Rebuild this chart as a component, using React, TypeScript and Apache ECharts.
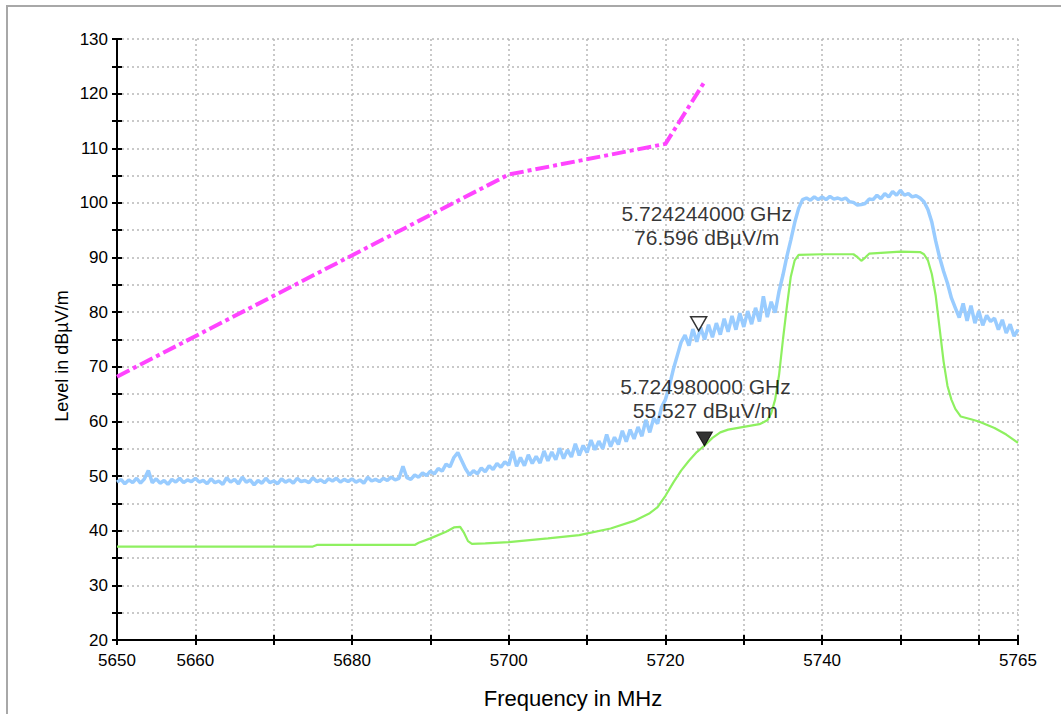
import React, { useEffect, useRef } from "react";
import * as echarts from "echarts";

// Axis ranges and labelled ticks
const FREQ_MIN = 5650;
const FREQ_MAX = 5765;
const FREQ_TICK = 10;
const FREQ_LABELS = [5650, 5660, 5680, 5700, 5720, 5740, 5765];
const LEVEL_MIN = 20;
const LEVEL_MAX = 130;
const LEVEL_TICK = 5;

// Peak detector trace, one reading every 0.5 MHz from 5650 MHz
const PEAK_START = 5650;
const PEAK_STEP = 0.5;
const PEAK_LEVELS = [
  48.9, 49.4, 48.6, 49.3, 48.8, 49.6, 48.7, 49.5, 51.0, 48.8,
  49.5, 48.7, 49.2, 48.5, 49.4, 48.9, 49.6, 48.8, 49.3, 49.0,
  49.6, 48.9, 49.2, 48.6, 49.5, 48.8, 49.1, 48.5, 49.7, 48.9,
  49.4, 48.6, 49.8, 48.9, 49.3, 48.4, 49.2, 48.7, 49.6, 48.8,
  49.1, 48.6, 49.5, 48.9, 49.3, 48.7, 49.6, 49.0, 49.2, 48.8,
  49.7, 49.0, 49.3, 48.8, 49.5, 49.1, 49.6, 48.9, 49.4, 49.0,
  49.5, 48.9, 49.3, 48.7, 49.8, 49.1, 49.4, 49.0, 49.6, 49.2,
  49.8, 49.3, 49.6, 51.8, 49.7, 49.4, 50.2, 49.8, 50.6, 50.1,
  50.9, 50.4, 51.4, 50.9, 52.2, 51.7, 53.4, 54.3, 52.8, 51.3,
  50.2, 51.0, 50.4, 51.5, 50.8, 51.9, 51.2, 52.3, 51.6, 52.6,
  52.0, 54.6, 51.8, 53.4, 51.9, 53.9, 52.3, 53.6, 52.4, 54.6,
  52.8, 54.4, 53.0, 55.1, 53.2, 54.8, 53.5, 55.9, 53.8, 55.6,
  54.3, 56.6, 54.8, 56.4, 55.0, 57.6, 55.4, 57.1, 55.8, 58.3,
  56.3, 58.5, 56.8, 59.0, 57.3, 60.3, 58.0, 60.6, 59.6, 62.6,
  64.0, 66.5, 69.5, 72.0, 74.5, 75.8, 73.9, 76.9, 74.6, 77.2,
  75.0, 77.7, 75.4, 78.0, 75.9, 78.8, 76.4, 79.3, 76.8, 79.8,
  77.3, 80.2, 77.8, 80.8, 78.3, 82.9, 79.1, 81.9, 79.9, 83.8,
  86.8, 90.2, 93.2, 96.4, 99.0, 100.6, 100.9, 100.5, 101.1, 100.6,
  101.1, 100.6, 101.2, 100.7, 100.9, 100.6, 100.9, 100.2, 100.1, 99.6,
  99.7, 99.9, 100.7, 100.6, 101.4, 100.8, 101.7, 101.1, 102.1, 101.4,
  102.3, 101.4, 101.7, 101.1, 101.3, 100.9, 100.2, 98.8, 96.5, 93.0,
  90.0, 87.5, 85.3, 82.6, 80.8, 79.0, 81.6, 78.4, 81.2, 78.0,
  80.2, 77.6, 79.4, 78.3, 78.9, 76.8, 78.6, 76.2, 77.8, 75.6,
  76.8,
];

// Average detector trace
const AVG_FREQS = [
  5650, 5675, 5675.5, 5688, 5688.5, 5690, 5692, 5693, 5693.8, 5694.3,
  5694.8, 5695.3, 5697, 5700, 5705, 5709, 5713, 5716, 5718, 5719,
  5720, 5721, 5722, 5723, 5724, 5725, 5726, 5727, 5728, 5730,
  5732, 5733, 5733.5, 5734, 5734.5, 5735, 5735.5, 5736, 5736.5, 5737,
  5740, 5744, 5744.5, 5745, 5745.5, 5746, 5748, 5750, 5752.5, 5753,
  5753.5, 5754, 5754.5, 5755, 5755.5, 5756, 5756.5, 5757, 5757.7, 5759,
  5760, 5762, 5763.5, 5765,
];
const AVG_LEVELS = [
  37.1, 37.1, 37.4, 37.4, 37.8, 38.6, 39.8, 40.6, 40.7, 39.6,
  38.1, 37.6, 37.7, 37.9, 38.6, 39.2, 40.4, 41.8, 43.2, 44.3,
  46.4, 48.8, 51.0, 52.8, 54.4, 55.6, 57.0, 58.0, 58.5, 59.0,
  59.5, 60.2, 61.5, 64.0, 68.5, 75.0, 81.0, 86.5, 89.5, 90.5,
  90.6, 90.6, 90.1, 89.4, 90.0, 90.7, 90.9, 91.1, 91.0, 90.6,
  89.5, 87.0, 83.0, 77.0, 71.0, 66.5, 64.0, 62.3, 60.9, 60.4,
  60.0, 58.8, 57.6, 56.1,
];

// Limit line
const LIMIT_FREQS = [5650, 5700, 5720, 5725];
const LIMIT_LEVELS = [68.2, 105.2, 110.8, 122.2];

// Markers: frequency in MHz, level in dBµV/m
const MARKER_FREQS = [5724.244, 5724.98];
const MARKER_LEVELS = [76.596, 55.527];

const FONT = "'Liberation Sans', Arial, Helvetica, sans-serif";

const pairs = (xs: number[], ys: number[]) => ys.map((y, i) => [xs[i], y]);

export default function App() {
  const ref = useRef<HTMLDivElement>(null);

  useEffect(() => {
    if (!ref.current) return;
    const chart = echarts.init(ref.current, undefined, { renderer: "svg" });

    const peakData = PEAK_LEVELS.map((v, i) => [PEAK_START + i * PEAK_STEP, v]);
    const gridLine = { show: true, lineStyle: { color: "#b8b8b8", width: 1.5, type: [2, 3] as any } };

    const markerLabel = (dx: number, dy: number) => ({
      show: true,
      position: "top" as const,
      distance: 5,
      offset: [dx, dy],
      align: "center" as const,
      color: "#000000",
      fontSize: 21,
      lineHeight: 24,
      fontFamily: FONT,
      formatter: (p: any) =>
        `${(p.value[0] / 1000).toFixed(9)} GHz\n${p.value[1].toFixed(3)} dBµV/m`,
    });

    chart.setOption({
      animation: false,
      backgroundColor: "#ffffff",
      grid: { left: 117, top: 39, width: 901, height: 601, containLabel: false },
      xAxis: [
        {
          type: "value",
          min: FREQ_MIN,
          max: FREQ_MAX,
          interval: FREQ_TICK,
          axisLine: { show: true, lineStyle: { color: "#000", width: 2 } },
          axisTick: { show: true, length: 5, lineStyle: { color: "#000", width: 2 } },
          axisLabel: {
            show: true,
            showMaxLabel: true,
            showMinLabel: true,
            margin: 12,
            color: "#000",
            fontSize: 17,
            fontFamily: FONT,
            formatter: (v: number) => (FREQ_LABELS.includes(v) ? String(v) : ""),
          },
          splitLine: gridLine,
        },
        {
          type: "value",
          position: "bottom",
          min: FREQ_MIN,
          max: FREQ_MAX,
          interval: FREQ_TICK,
          axisLine: { show: false },
          axisTick: { show: true, inside: true, length: 5, lineStyle: { color: "#000", width: 2 } },
          axisLabel: { show: false },
          splitLine: { show: false },
        },
      ],
      yAxis: [
        {
          type: "value",
          min: LEVEL_MIN,
          max: LEVEL_MAX,
          interval: LEVEL_TICK,
          axisLine: { show: true, lineStyle: { color: "#000", width: 2 } },
          axisTick: { show: true, length: 5, lineStyle: { color: "#000", width: 2 } },
          axisLabel: {
            show: true,
            margin: 9,
            color: "#000",
            fontSize: 17,
            fontFamily: FONT,
            formatter: (v: number) => (v % 10 === 0 ? String(v) : ""),
          },
          splitLine: gridLine,
        },
        {
          type: "value",
          position: "left",
          min: LEVEL_MIN,
          max: LEVEL_MAX,
          interval: LEVEL_TICK,
          axisLine: { show: false },
          axisTick: { show: true, inside: true, length: 5, lineStyle: { color: "#000", width: 2 } },
          axisLabel: { show: false },
          splitLine: { show: false },
        },
      ],
      graphic: [
        {
          type: "rect",
          silent: true,
          shape: { x: 7, y: 6, width: 1100, height: 800 },
          style: { fill: "none", stroke: "#a8a8a8", lineWidth: 2 },
        },
        {
          type: "text",
          x: 573,
          y: 698,
          style: {
            text: "Frequency in MHz",
            fontSize: 22,
            fontFamily: FONT,
            fill: "#000",
            textAlign: "center",
            textVerticalAlign: "middle",
            align: "center",
            verticalAlign: "middle",
          },
        },
        {
          type: "text",
          x: 62,
          y: 356,
          rotation: Math.PI / 2,
          style: {
            text: "Level in dBµV/m",
            fontSize: 18,
            fontFamily: FONT,
            fill: "#000",
            textAlign: "center",
            textVerticalAlign: "middle",
            align: "center",
            verticalAlign: "middle",
          },
        },
      ],
      series: [
        {
          name: "Peak",
          type: "line",
          data: peakData,
          showSymbol: false,
          symbol: "none",
          lineStyle: { color: "#99ccff", width: 3.5 },
          z: 2,
        },
        {
          name: "Average",
          type: "line",
          data: pairs(AVG_FREQS, AVG_LEVELS),
          showSymbol: false,
          symbol: "none",
          lineStyle: { color: "#8ef060", width: 2.2 },
          z: 3,
        },
        {
          name: "Limit",
          type: "line",
          data: pairs(LIMIT_FREQS, LIMIT_LEVELS),
          showSymbol: false,
          symbol: "none",
          lineStyle: { color: "#ff44ff", width: 4, type: [14, 4, 4, 4] as any },
          z: 4,
        },
        {
          name: "Markers",
          type: "scatter",
          symbol: "triangle",
          symbolSize: [16, 14],
          symbolRotate: 180,
          symbolOffset: [0, -7],
          z: 5,
          data: [
            {
              value: [MARKER_FREQS[0], MARKER_LEVELS[0]],
              itemStyle: { color: "#ffffff", borderColor: "#000", borderWidth: 1.5 },
              label: markerLabel(8, -62),
            },
            {
              value: [MARKER_FREQS[1], MARKER_LEVELS[1]],
              itemStyle: { color: "#000", borderColor: "#000", borderWidth: 1 },
              label: markerLabel(1, -4),
            },
          ],
        },
      ],
    });

    return () => chart.dispose();
  }, []);

  return (
    <div
      ref={ref}
      style={{ position: "fixed", left: 0, top: 0, width: 1061, height: 714, background: "#fff" }}
    />
  );
}
